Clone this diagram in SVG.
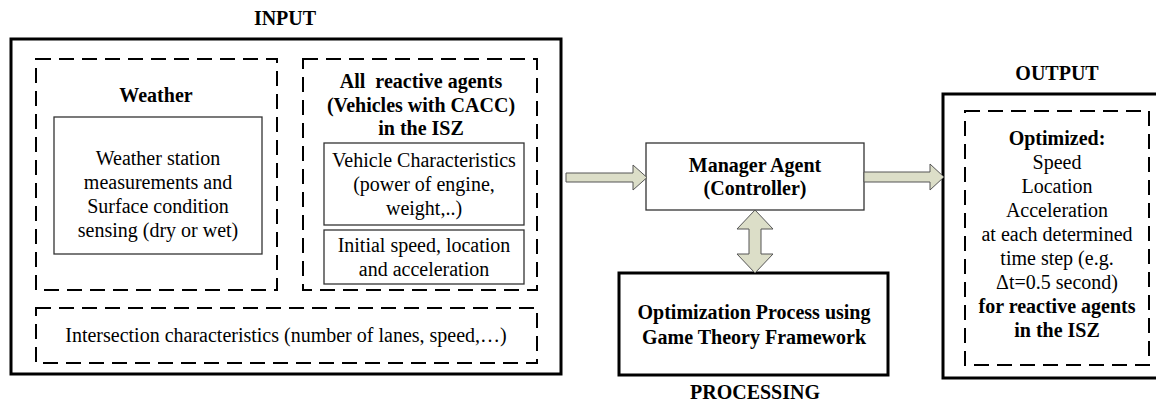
<svg xmlns="http://www.w3.org/2000/svg" width="1156" height="404" viewBox="0 0 1156 404">
<defs>
<style>
text{font-family:"Liberation Serif","Times New Roman",serif;fill:#000;text-anchor:middle}
.r20{font-size:20px}
.b20{font-size:20px;font-weight:bold}
.thick{fill:#fff;stroke:#000;stroke-width:3}
.dash{fill:none;stroke:#000;stroke-width:2;stroke-dasharray:15 8}
.thin{fill:#fff;stroke:#333;stroke-width:1.3}
.arrow{fill:#dcdec8;stroke:#555;stroke-width:1}
</style>
</defs>
<rect width="1156" height="404" fill="#fff"/>

<g id="input">
<text class="b20" x="285" y="25">INPUT</text>
<rect class="thick" x="11" y="39" width="550" height="335"/>
</g>

<g id="weather">
<rect class="dash" x="36" y="59" width="241" height="231"/>
<text class="b20" x="156" y="102">Weather</text>
<rect class="thin" x="54" y="117" width="208" height="137"/>
<text class="r20" x="158" y="165">Weather station</text>
<text class="r20" x="158" y="189">measurements and</text>
<text class="r20" x="158" y="213">Surface condition</text>
<text class="r20" x="158" y="237">sensing (dry or wet)</text>
</g>

<g id="agents">
<rect class="dash" x="303" y="59" width="234" height="231"/>
<text class="b20" x="421" y="88" xml:space="preserve">All  reactive agents</text>
<text class="b20" x="421" y="112">(Vehicles with CACC)</text>
<text class="b20" x="421" y="135">in the ISZ</text>
</g>

<g id="vehicle-characteristics">
<rect class="thin" x="324" y="143" width="200" height="82"/>
<text class="r20" x="424" y="167">Vehicle Characteristics</text>
<text class="r20" x="424" y="191">(power of engine,</text>
<text class="r20" x="424" y="215">weight,..)</text>
</g>

<g id="initial-state">
<rect class="thin" x="324" y="230" width="200" height="54"/>
<text class="r20" x="424" y="252">Initial speed, location</text>
<text class="r20" x="424" y="276">and acceleration</text>
</g>

<g id="intersection">
<rect class="dash" x="36" y="308" width="501" height="55"/>
<text class="r20" x="286" y="342">Intersection characteristics (number of lanes, speed,…)</text>
</g>

<g id="manager">
<rect class="thin" x="646" y="143" width="218" height="67"/>
<text class="b20" x="755" y="172">Manager Agent</text>
<text class="b20" x="755" y="195">(Controller)</text>
</g>

<g id="optimization">
<rect class="thick" x="619" y="273" width="269" height="102"/>
<text class="b20" x="754" y="319">Optimization Process using</text>
<text class="b20" x="754" y="344">Game Theory Framework</text>
<text class="b20" x="755" y="399">PROCESSING</text>
</g>

<g id="output">
<text class="b20" x="1057" y="80">OUTPUT</text>
<rect class="thick" x="943" y="94" width="225" height="284"/>
<rect class="dash" x="965" y="111" width="184" height="254"/>
<text class="b20" x="1057" y="145">Optimized:</text>
<text class="r20" x="1057" y="169">Speed</text>
<text class="r20" x="1057" y="193">Location</text>
<text class="r20" x="1057" y="217">Acceleration</text>
<text class="r20" x="1057" y="241">at each determined</text>
<text class="r20" x="1057" y="265">time step (e.g.</text>
<text class="r20" x="1057" y="289">Δt=0.5 second)</text>
<text class="b20" x="1057" y="313">for reactive agents</text>
<text class="b20" x="1057" y="337">in the ISZ</text>
</g>

<g id="connectors">
<path class="arrow" d="M566,173 H633 V165 L647,177.5 L633,190 V182 H566 Z"/>
<path class="arrow" d="M864,172 H930 V164 L944,177 L930,190 V182 H864 Z"/>
<path class="arrow" d="M755,210 L773,229 H761 V254 H773 L755,273 L737,254 H749 V229 H737 Z"/>
</g>
</svg>
